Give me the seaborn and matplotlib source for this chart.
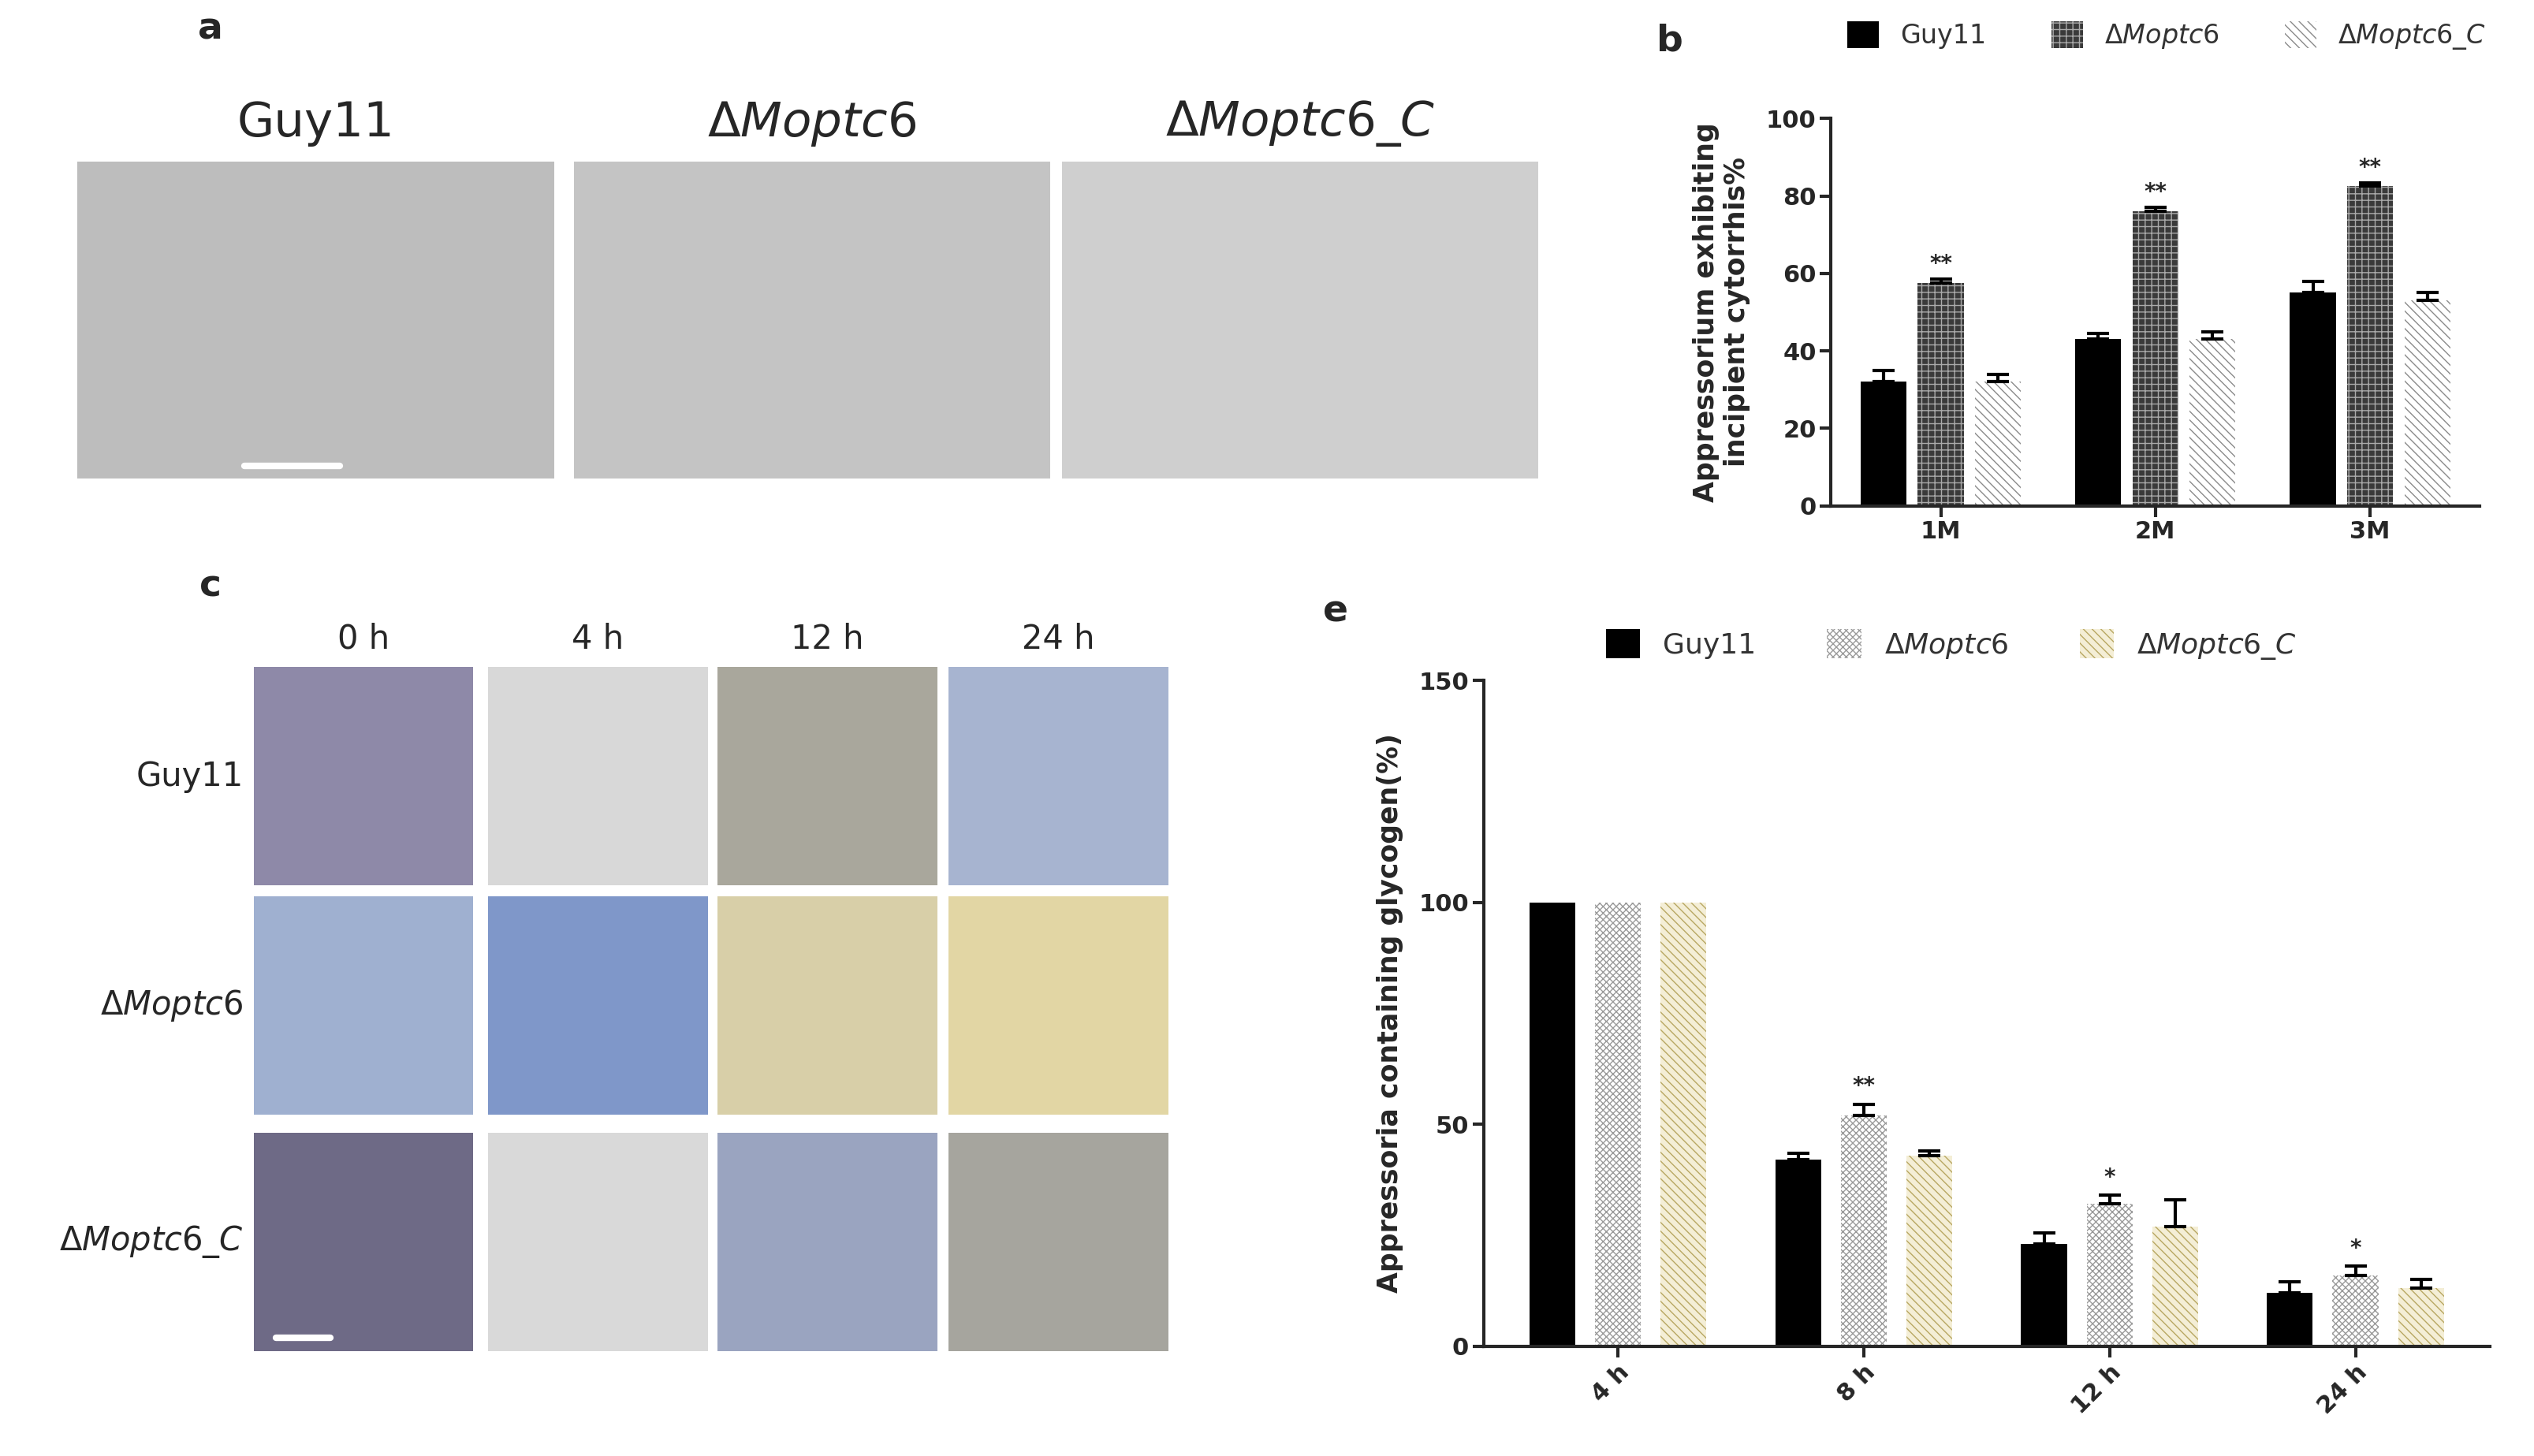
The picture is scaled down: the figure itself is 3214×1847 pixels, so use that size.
import numpy as np
import pandas as pd
import matplotlib
matplotlib.use("Agg")
import matplotlib.pyplot as plt
import seaborn as sns

sns.set_style("ticks")
plt.rcParams['font.family'] = ['DejaVu Sans']

strains = ["Guy11", "ΔMoptc6", "ΔMoptc6_C"]
# panel b
b_groups = ["1M", "2M", "3M"]
b_vals = {"Guy11": [32, 43, 55], "ΔMoptc6": [57.5, 76, 82.5], "ΔMoptc6_C": [32, 43, 53]}
b_err = {"Guy11": [3, 1.5, 3], "ΔMoptc6": [1, 1, 0.8], "ΔMoptc6_C": [2, 2, 2]}
b_stars = {"ΔMoptc6": ["**", "**", "**"]}
# panel e
e_groups = ["4 h", "8 h", "12 h", "24 h"]
e_vals = {"Guy11": [100, 42, 23, 12], "ΔMoptc6": [100, 52, 32, 16], "ΔMoptc6_C": [100, 43, 27, 13]}
e_err = {"Guy11": [0, 1.5, 2.5, 2.5], "ΔMoptc6": [0, 2.5, 2, 2], "ΔMoptc6_C": [0, 1, 6, 2]}
e_stars = {"ΔMoptc6": ["", "**", "*", "*"]}

time_cols = ["0 h", "4 h", "12 h", "24 h"]
row_labels = ["Guy11", "ΔMoptc6", "ΔMoptc6_C"]
c_colors = [["#8e89a8", "#d8d8d8", "#a9a79c", "#a7b4d0"],
            ["#9fb0d0", "#7f97c9", "#d8cfa8", "#e2d6a4"],
            ["#6e6a86", "#d9d9d9", "#9aa4c0", "#a6a59e"]]
a_colors = ["#bdbdbd", "#c4c4c4", "#cfcfcf"]

fig = plt.figure(figsize=(32.14, 18.47), dpi=100)

def rich_label(s):
    if s.startswith("Δ"):
        return r"$\Delta$" + r"$\it{" + s[1:].replace("_", r"\_") + "}$"
    return s

# panel a placeholders
a_x = [0.0306, 0.2264, 0.419]
for i, s in enumerate(strains):
    ax = fig.add_axes([a_x[i], 0.6715, 0.188, 0.2175])
    ax.set_facecolor(a_colors[i]); ax.set_xticks([]); ax.set_yticks([])
    for sp in ax.spines.values(): sp.set_visible(False)
    fig.text(a_x[i] + 0.094, 0.915, rich_label(s), ha="center", va="center", fontsize=44)
    if i == 0:
        ax.plot([0.35, 0.55], [0.04, 0.04], color="white", lw=6, transform=ax.transAxes)
fig.text(0.083, 0.98, "a", fontsize=34, fontweight="bold", ha="center", va="center")

# panel c placeholders
cx = [0.1001, 0.1926, 0.2832, 0.3744]
cy = [0.3918, 0.2342, 0.0721]
for r in range(3):
    for c in range(4):
        ax = fig.add_axes([cx[c], cy[r], 0.0867, 0.15])
        ax.set_facecolor(c_colors[r][c]); ax.set_xticks([]); ax.set_yticks([])
        for sp in ax.spines.values(): sp.set_visible(False)
        if r == 2 and c == 0:
            ax.plot([0.1, 0.35], [0.06, 0.06], color="white", lw=6, transform=ax.transAxes)
    fig.text(0.096, cy[r] + 0.075, rich_label(row_labels[r]), ha="right", va="center", fontsize=30)
for c in range(4):
    fig.text(cx[c] + 0.0433, 0.561, time_cols[c], ha="center", va="center", fontsize=30)
fig.text(0.083, 0.597, "c", fontsize=34, fontweight="bold", ha="center", va="center")

def bar_panel(rect, groups, vals, errs, stars, ylim, yticks, ylabel, styles, rot, gap):
    ax = fig.add_axes(rect)
    df = pd.DataFrame([(g, s, vals[s][i]) for s in strains for i, g in enumerate(groups)],
                      columns=["group", "strain", "value"])
    sns.barplot(data=df, x="group", y="value", hue="strain", hue_order=strains,
                order=groups, errorbar=None, width=0.8, gap=gap, ax=ax, legend=False)
    conts = ax.containers
    for s, cont in zip(strains, conts):
        fc, hatch, ec = styles[s]
        xs, tops = [], []
        for p in cont.patches:
            p.set_facecolor(fc); p.set_hatch(hatch); p.set_edgecolor(ec); p.set_linewidth(0)
            xs.append(p.get_x() + p.get_width() / 2); tops.append(p.get_height())
        xs = np.array(xs); tops = np.array(tops); e = np.array(errs[s])
        m = e > 0
        ax.errorbar(xs[m], tops[m], yerr=[np.zeros(m.sum()), e[m]], fmt="none", ecolor="black",
                    elinewidth=3, capsize=10, capthick=3)
        if s in stars:
            for x, t, ee, st in zip(xs, tops, e, stars[s]):
                if st:
                    ax.text(x, t + ee + ylim[1] * 0.01, st, ha="center", va="bottom", fontsize=20, fontweight="bold")
    ax.set_ylim(*ylim); ax.set_yticks(yticks)
    ax.set_xlabel(""); ax.set_ylabel(ylabel, fontsize=25, fontweight="bold", labelpad=14)
    sns.despine(ax=ax)
    for sp in ["left", "bottom"]: ax.spines[sp].set_linewidth(3)
    ax.tick_params(width=3, length=10, labelsize=22)
    for lab in ax.get_xticklabels():
        lab.set_fontweight("bold")
        if rot:
            lab.set_rotation(45); lab.set_ha("right"); lab.set_rotation_mode("anchor")
    for lab in ax.get_yticklabels(): lab.set_fontweight("bold")
    return ax

b_styles = {"Guy11": ("black", "", "black"),
            "ΔMoptc6": ("#3a3a3a", "++", "#aaaaaa"),
            "ΔMoptc6_C": ("white", "\\\\\\", "#8a8a8a")}
axb = bar_panel([0.7226, 0.6526, 0.256, 0.266], b_groups, b_vals, b_err, b_stars,
                (0, 100), [0, 20, 40, 60, 80, 100],
                "Appressorium exhibiting\nincipient cytorrhis%", b_styles, False, 0.2)
e_styles = {"Guy11": ("black", "", "black"),
            "ΔMoptc6": ("white", "xxxx", "#9a9a9a"),
            "ΔMoptc6_C": ("#f4eed6", "\\\\\\", "#b8a762")}
axe = bar_panel([0.5855, 0.0755, 0.397, 0.457], e_groups, e_vals, e_err, e_stars,
                (0, 150), [0, 50, 100, 150],
                "Appressoria containing glycogen(%)", e_styles, True, 0.3)

from matplotlib.patches import Patch
def legend(ax, styles, anchor, fs):
    handles = [Patch(facecolor=styles[s][0], hatch=styles[s][1], edgecolor=styles[s][2], linewidth=0)
               for s in strains]
    ax.legend(handles, [rich_label(s) for s in strains], ncol=3, frameon=False, fontsize=fs,
              loc="center", bbox_to_anchor=anchor, bbox_transform=fig.transFigure,
              handlelength=1.2, handleheight=1.2, columnspacing=2.5, labelcolor="#333333")
legend(axb, b_styles, (0.855, 0.975), 24)
legend(axe, e_styles, (0.77, 0.557), 26)
fig.text(0.659, 0.972, "b", fontsize=34, fontweight="bold", ha="center", va="center")
fig.text(0.527, 0.58, "e", fontsize=34, fontweight="bold", ha="center", va="center")

fig.savefig("out.png", dpi=100, facecolor="white")
